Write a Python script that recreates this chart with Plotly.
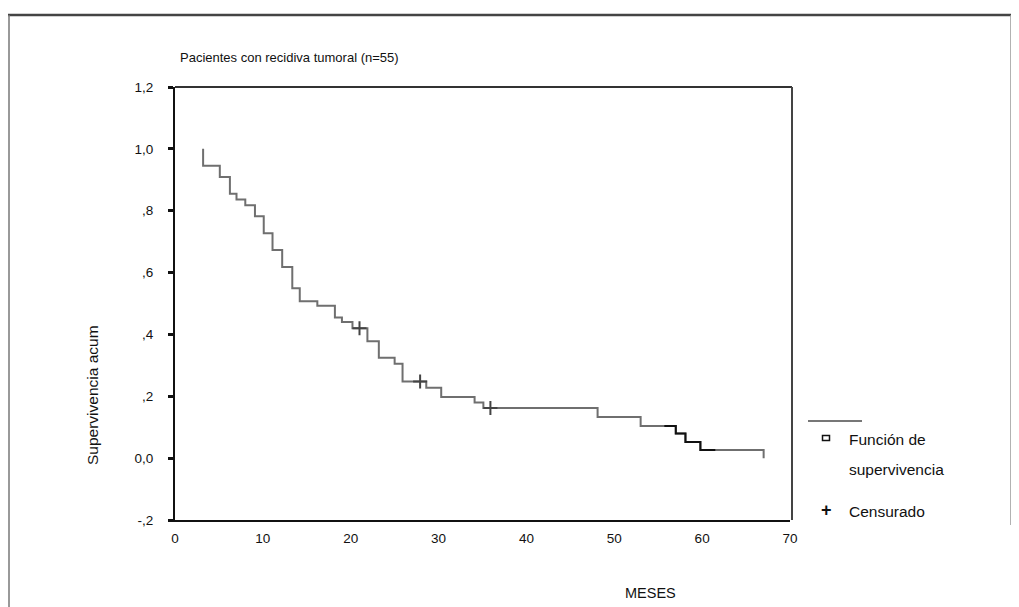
import plotly.graph_objects as go

# ---- data ----
event_times = [3.2, 5.1, 6.25, 7.0, 8.0, 9.1, 10.1, 11.1, 12.2, 13.35, 14.2, 16.2,
               18.2, 19.0, 20.2, 21.9, 23.2, 25.0, 25.9, 28.6, 30.3, 34.1, 35.1,
               48.1, 53.0, 57.0, 58.1, 59.8, 67.0]
survival = [0.945, 0.909, 0.855, 0.836, 0.818, 0.782, 0.727, 0.673, 0.618, 0.549,
            0.507, 0.493, 0.455, 0.440, 0.420, 0.378, 0.325, 0.305, 0.248, 0.228,
            0.198, 0.180, 0.162, 0.133, 0.104, 0.080, 0.052, 0.026, 0.0]
censor_times = [21.0, 27.9, 35.9]
censor_surv = [0.420, 0.248, 0.162]

y_tickvals = [-0.2, 0.0, 0.2, 0.4, 0.6, 0.8, 1.0, 1.2]
y_ticktext = ["-,2", "0,0", ",2", ",4", ",6", ",8", "1,0", "1,2"]
x_tickvals = [0, 10, 20, 30, 40, 50, 60, 70]

title_text = "Pacientes con recidiva tumoral (n=55)"
y_title = "Supervivencia acum"
x_title = "MESES"
legend_labels = ["Función de", "supervivencia", "Censurado"]

# scan artefact: part of the curve printed darker
dark_range = (55.7, 61.5)

# ---- step curve ----
xs = [event_times[0]] + event_times
ys = [1.0] + survival

FONT = "Liberation Sans, Arial, sans-serif"

fig = go.Figure()
fig.add_trace(go.Scatter(x=xs, y=ys, mode="lines", line=dict(shape="hv", color="#6f6f6f", width=2),
                         hoverinfo="skip", showlegend=False))

def step_value(t):
    v = 1.0
    for et, s in zip(event_times, survival):
        if t >= et:
            v = s
    return v

dx = [dark_range[0]] + [t for t in event_times if dark_range[0] < t < dark_range[1]] + [dark_range[1]]
dy = [step_value(t) for t in dx]
fig.add_trace(go.Scatter(x=dx, y=dy, mode="lines", line=dict(shape="hv", color="#111111", width=2),
                         hoverinfo="skip", showlegend=False))

fig.add_trace(go.Scatter(x=censor_times, y=censor_surv, mode="markers",
                         marker=dict(symbol="cross-thin-open", size=10, color="#444444",
                                     line=dict(width=2, color="#444444")),
                         hoverinfo="skip", showlegend=False))

# page pixel geometry (page body has an 8px margin)
OFF = 8
W, H = 1019 - OFF, 607 - OFF
L, R, T, B = 175, 790, 87, 520   # in page pixels

def px(p):
    return (p - L) / (R - L)

def py(p):
    return (B - p) / (B - T)

annotations = [
    dict(text=title_text, x=px(178), y=py(57), xref="paper", yref="paper", xanchor="left", yanchor="middle",
         showarrow=False, font=dict(family=FONT, size=13, color="#111")),
    dict(text=y_title, x=px(92), y=py(395), xref="paper", yref="paper", xanchor="center", yanchor="middle",
         textangle=-90, showarrow=False, font=dict(family=FONT, size=15.5, color="#111")),
    dict(text=x_title, x=px(650), y=py(593), xref="paper", yref="paper", xanchor="center", yanchor="middle",
         showarrow=False, font=dict(family=FONT, size=14.5, color="#111")),
    dict(text=legend_labels[0], x=px(847), y=py(439), xref="paper", yref="paper", xanchor="left", yanchor="middle",
         showarrow=False, font=dict(family=FONT, size=15.5, color="#111")),
    dict(text=legend_labels[1], x=px(847), y=py(469), xref="paper", yref="paper", xanchor="left", yanchor="middle",
         showarrow=False, font=dict(family=FONT, size=15.5, color="#111")),
    dict(text="<b>+</b>", x=px(826), y=py(510), xref="paper", yref="paper", xanchor="center", yanchor="middle",
         showarrow=False, font=dict(family=FONT, size=18, color="#111")),
    dict(text=legend_labels[2], x=px(847), y=py(511), xref="paper", yref="paper", xanchor="left", yanchor="middle",
         showarrow=False, font=dict(family=FONT, size=15.5, color="#111")),
]

shapes = [
    # outer frame
    dict(type="line", xref="paper", yref="paper", x0=px(8), x1=px(1012), y0=py(15), y1=py(15),
         line=dict(color="#444", width=2.5)),
    dict(type="line", xref="paper", yref="paper", x0=px(9), x1=px(9), y0=py(15), y1=py(610),
         line=dict(color="#777", width=1.5)),
    dict(type="line", xref="paper", yref="paper", x0=px(1011), x1=px(1011), y0=py(15), y1=py(525),
         line=dict(color="#999", width=1.5)),
    # plot frame top / right
    dict(type="line", xref="paper", yref="paper", x0=0, x1=px(792), y0=1, y1=1,
         line=dict(color="#333", width=2)),
    dict(type="line", xref="paper", yref="paper", x0=px(792), x1=px(792), y0=0, y1=1,
         line=dict(color="#444", width=2)),
    # legend sample line
    dict(type="line", xref="paper", yref="paper", x0=px(808), x1=px(862), y0=py(421), y1=py(421),
         line=dict(color="#777", width=2)),
    # legend square
    dict(type="rect", xref="paper", yref="paper", xsizemode="pixel", ysizemode="pixel",
         xanchor=px(826), yanchor=py(438), x0=-3.5, x1=3.5, y0=-2.5, y1=2.5,
         line=dict(color="#111", width=1.5), fillcolor="white"),
]

fig.update_layout(
    width=W, height=H,
    margin=dict(l=L - OFF, r=(W + OFF) - R, t=T - OFF, b=(H + OFF) - B, pad=0),
    paper_bgcolor="white", plot_bgcolor="white",
    font=dict(family=FONT, size=13, color="#111"),
    showlegend=False,
    annotations=annotations,
    shapes=shapes,
    xaxis=dict(range=[0, 70], tickvals=x_tickvals, ticktext=[str(v) for v in x_tickvals],
               showgrid=False, zeroline=False, showline=True, linecolor="#111", linewidth=2,
               ticks="", ticklabelstandoff=5, tickfont=dict(size=13.5), fixedrange=True),
    yaxis=dict(range=[-0.2, 1.2], tickvals=y_tickvals, ticktext=y_ticktext,
               showgrid=False, zeroline=False, showline=True, linecolor="#111", linewidth=2,
               ticks="outside", ticklen=5, tickwidth=3, tickcolor="#111",
               ticklabelstandoff=12, tickfont=dict(size=13.5), fixedrange=True),
)

fig.write_html("out.html")
